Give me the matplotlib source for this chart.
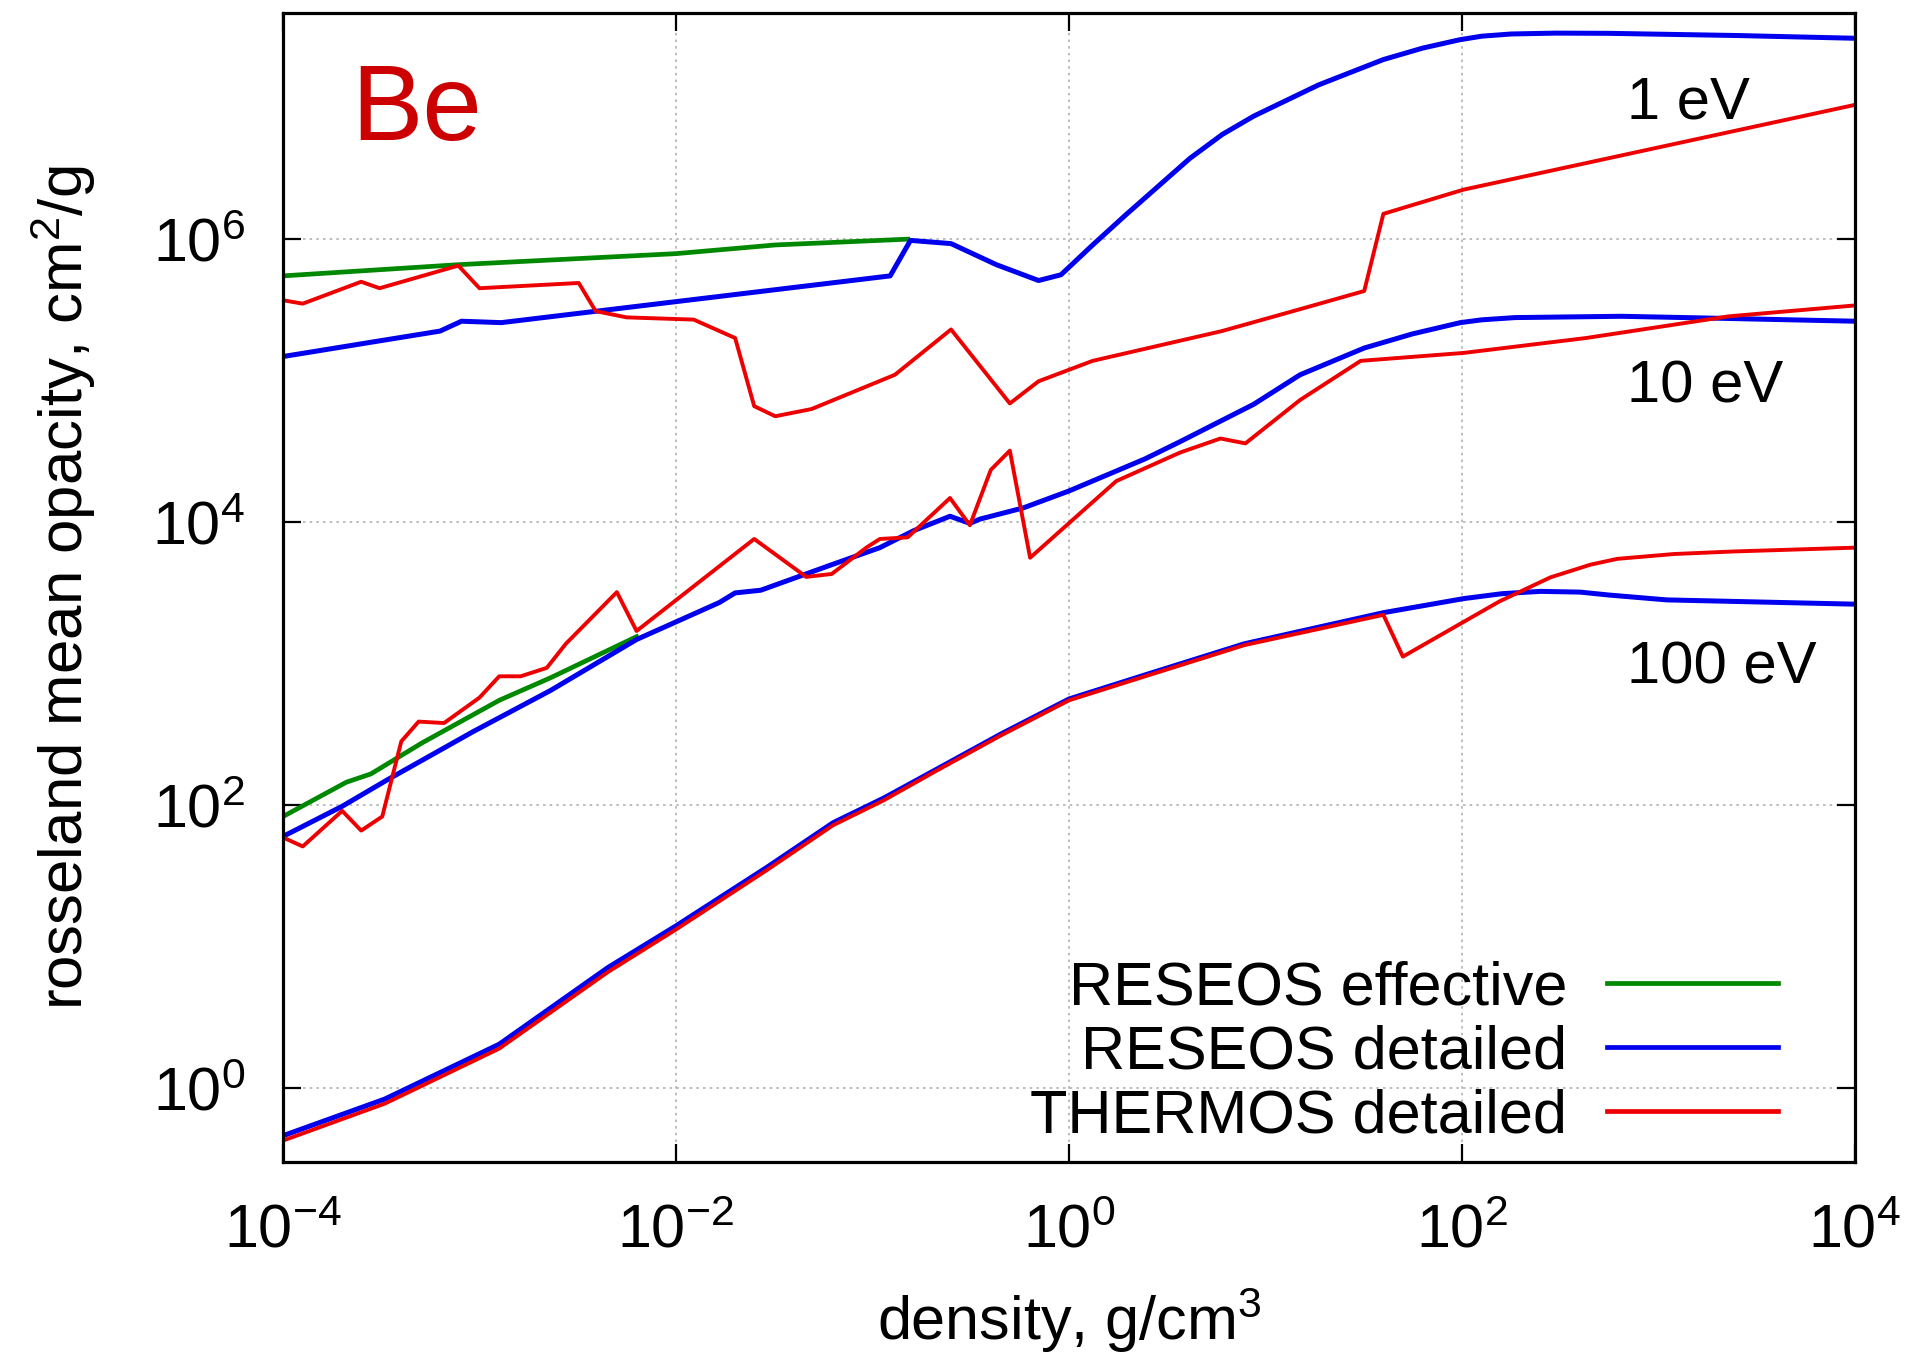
import matplotlib
matplotlib.use("Agg")
import matplotlib.pyplot as plt
from matplotlib.ticker import FixedLocator, FixedFormatter, NullLocator

plt.rcParams['font.family'] = ['Liberation Sans', 'DejaVu Sans']
plt.rcParams['mathtext.fontset'] = 'custom'
plt.rcParams['mathtext.rm'] = 'Liberation Sans'
plt.rcParams['mathtext.it'] = 'Liberation Sans:italic'
plt.rcParams['mathtext.bf'] = 'Liberation Sans:bold'
plt.rcParams['mathtext.sf'] = 'Liberation Sans'

# ---------------- data (density g/cm^3, opacity cm^2/g) ----------------
# 1 eV
eff_1eV_x = [1.0e-4, 7.8e-4, 1.0e-2, 3.2e-2, 0.151]
eff_1eV_y = [5.5e5, 6.6e5, 7.9e5, 9.1e5, 1.0e6]

det_1eV_x = [1.0e-4, 2.5e-4, 6.3e-4, 8.1e-4, 1.29e-3, 0.123, 0.156, 0.251, 0.427, 0.70,
             0.91, 1.32, 1.94, 2.82, 4.12, 6.03, 8.7, 18.6, 39.8, 63, 97.7, 126, 178,
             300, 556, 2510, 1.0e4]
det_1eV_y = [1.48e5, 1.82e5, 2.24e5, 2.63e5, 2.57e5, 5.5e5, 9.8e5, 9.3e5, 6.6e5, 5.1e5,
             5.6e5, 9.1e5, 1.48e6, 2.34e6, 3.72e6, 5.5e6, 7.4e6, 1.23e7, 1.86e7, 2.24e7,
             2.57e7, 2.72e7, 2.82e7, 2.86e7, 2.85e7, 2.75e7, 2.63e7]

thm_1eV_x = [1.0e-4, 1.26e-4, 2.5e-4, 3.1e-4, 7.8e-4, 1.0e-3, 3.2e-3, 3.9e-3, 5.6e-3, 1.23e-2,
             2.0e-2, 2.5e-2, 3.2e-2, 4.9e-2, 0.13, 0.251, 0.50, 0.70, 1.32, 6.0, 15, 31.8,
             39.8, 102, 1.0e4]
thm_1eV_y = [3.7e5, 3.5e5, 5.0e5, 4.5e5, 6.5e5, 4.5e5, 4.9e5, 3.1e5, 2.8e5, 2.7e5,
             2.0e5, 6.6e4, 5.6e4, 6.3e4, 1.1e5, 2.3e5, 6.9e4, 9.9e4, 1.38e5, 2.24e5, 3.2e5,
             4.3e5, 1.51e6, 2.24e6, 8.9e6]

# 10 eV
eff_10eV_x = [1.0e-4, 2.1e-4, 2.8e-4, 5.1e-4, 1.26e-3, 2.3e-3, 6.3e-3]
eff_10eV_y = [83, 145, 166, 275, 550, 794, 1.55e3]

det_10eV_x = [1.0e-4, 2.0e-4, 3.4e-4, 9.3e-4, 2.3e-3, 6.3e-3, 1.66e-2, 2.0e-2, 2.7e-2, 6.2e-2,
              0.109, 0.162, 0.248, 0.313, 0.352, 0.585, 1.0, 2.44, 3.67, 8.7, 15, 31.8,
              56, 98, 126, 186, 646, 2290, 1.0e4]
det_10eV_y = [60, 98, 151, 331, 646, 1.48e3, 2.7e3, 3.16e3, 3.3e3, 5.0e3,
              6.6e3, 8.7e3, 1.10e4, 9.8e3, 1.05e4, 1.26e4, 1.66e4, 2.8e4, 3.7e4, 6.8e4,
              1.10e5, 1.70e5, 2.14e5, 2.57e5, 2.69e5, 2.79e5, 2.85e5, 2.75e5, 2.63e5]

thm_10eV_x = [1.0e-4, 1.26e-4, 2.0e-4, 2.5e-4, 3.2e-4, 4.0e-4, 4.9e-4, 6.6e-4, 1.0e-3, 1.26e-3,
              1.62e-3, 2.2e-3, 2.75e-3, 5.0e-3, 6.3e-3, 2.5e-2, 4.6e-2, 6.2e-2, 9.3e-2, 0.109,
              0.151, 0.248, 0.313, 0.40, 0.50, 0.634, 1.74, 3.67, 5.9, 7.9, 15, 30.5,
              102, 427, 2290, 1.0e4]
thm_10eV_y = [59, 51, 91, 66, 83, 282, 389, 380, 575, 813,
              813, 933, 1.38e3, 3.2e3, 1.7e3, 7.6e3, 4.1e3, 4.3e3, 6.6e3, 7.6e3,
              7.8e3, 1.48e4, 9.5e3, 2.34e4, 3.2e4, 5.6e3, 1.95e4, 3.1e4, 3.9e4, 3.6e4,
              7.3e4, 1.38e5, 1.57e5, 2.0e5, 2.85e5, 3.4e5]

# 100 eV
det_100eV_x = [1.0e-4, 3.3e-4, 1.26e-3, 4.5e-3, 1.0e-2, 2.9e-2, 6.3e-2, 0.114, 0.204, 0.447,
               1.0, 2.44, 7.8, 39.8, 102, 160, 251, 400, 562, 1100, 1.0e4]
det_100eV_y = [0.46, 0.836, 2.04, 7.1, 14.0, 36.3, 75, 112, 174, 316,
               562, 832, 1.38e3, 2.29e3, 2.88e3, 3.12e3, 3.24e3, 3.2e3, 3.05e3, 2.82e3, 2.63e3]

thm_100eV_x = [1.0e-4, 3.3e-4, 1.26e-3, 4.5e-3, 1.0e-2, 2.9e-2, 6.3e-2, 0.114, 0.204, 0.447,
               1.0, 2.44, 7.8, 39.8, 50, 155, 282, 450, 617, 1200, 2400, 1.0e4]
thm_100eV_y = [0.425, 0.776, 1.9, 6.6, 13.2, 34.7, 72, 108, 170, 309,
               550, 813, 1.35e3, 2.21e3, 1.12e3, 2.75e3, 4.07e3, 5.0e3, 5.5e3, 5.95e3, 6.2e3, 6.6e3]

legend_labels = ['RESEOS effective', 'RESEOS detailed', 'THERMOS detailed']
temp_labels = ['1 eV', '10 eV', '100 eV']
x_ticks = [1e-4, 1e-2, 1e0, 1e2, 1e4]
x_tick_exp = [-4, -2, 0, 2, 4]
y_ticks = [1e0, 1e2, 1e4, 1e6]
y_tick_exp = [0, 2, 4, 6]

# ---------------- figure ----------------
C_GREEN = '#008800'
C_BLUE = '#0000ee'
C_RED = '#ee0000'

fig = plt.figure(figsize=(19.10, 13.53), dpi=100)
ax = fig.add_axes([283 / 1910, 1 - 1162 / 1353, (1855 - 283) / 1910, (1162 - 12.5) / 1353])
ax.set_xscale('log')
ax.set_yscale('log')
ax.set_xlim(1e-4, 1e4)
ax.set_ylim(0.3, 4e7)

lw_g, lw_b, lw_r = 3.4, 3.6, 2.8
h_g, = ax.plot(eff_1eV_x, eff_1eV_y, color=C_GREEN, lw=lw_g)
ax.plot(eff_10eV_x, eff_10eV_y, color=C_GREEN, lw=lw_g)
h_b, = ax.plot(det_1eV_x, det_1eV_y, color=C_BLUE, lw=lw_b)
ax.plot(det_10eV_x, det_10eV_y, color=C_BLUE, lw=lw_b)
ax.plot(det_100eV_x, det_100eV_y, color=C_BLUE, lw=lw_b)
h_r, = ax.plot(thm_1eV_x, thm_1eV_y, color=C_RED, lw=lw_r)
ax.plot(thm_10eV_x, thm_10eV_y, color=C_RED, lw=lw_r)
ax.plot(thm_100eV_x, thm_100eV_y, color=C_RED, lw=lw_r)

# ticks
ax.xaxis.set_major_locator(FixedLocator(x_ticks))
ax.xaxis.set_major_formatter(FixedFormatter([r'$\mathregular{10^{%d}}$' % e for e in x_tick_exp]))
ax.yaxis.set_major_locator(FixedLocator(y_ticks))
ax.yaxis.set_major_formatter(FixedFormatter([r'$\mathregular{10^{%d}}$' % e for e in y_tick_exp]))
ax.xaxis.set_minor_locator(NullLocator())
ax.yaxis.set_minor_locator(NullLocator())
ax.tick_params(axis='both', which='major', direction='in', length=13, width=1.6,
               top=True, right=True, labelsize=44, colors='black')
ax.tick_params(axis='x', pad=30)
ax.tick_params(axis='y', pad=27)
for s in ax.spines.values():
    s.set_linewidth(2.3)
ax.grid(True, which='major', linestyle=(0, (1.5, 2.5)), color='#b0b0b0', lw=1.2)
ax.set_axisbelow(True)

# labels
ax.set_xlabel('density, g/cm$^{3}$', fontsize=44)
ax.xaxis.set_label_coords(0.5, -0.155)
ax.xaxis.label.set_verticalalignment('baseline')
ax.set_ylabel('rosseland mean opacity, cm$^{2}$/g', fontsize=44.5)
ax.yaxis.set_label_coords(-0.118, 0.5)

ax.text(0.0433, 0.889, 'Be', transform=ax.transAxes, fontsize=77, color='#cc0000',
        ha='left', va='baseline')
for lab, yb in zip(temp_labels, [0.908, 0.661, 0.4167]):
    ax.text(0.855, yb, lab, transform=ax.transAxes, fontsize=43, ha='left', va='baseline')

leg = ax.legend([h_g, h_b, h_r], legend_labels, markerfirst=False, frameon=False,
                fontsize=44, handlelength=2.8, handletextpad=0.65, labelspacing=0.12,
                borderpad=0, borderaxespad=0, loc='center right',
                bbox_to_anchor=(0.951, 0.0948))
for line in leg.get_lines():
    line.set_linewidth(3.4)

fig.savefig('out.png', dpi=100, facecolor='white')
